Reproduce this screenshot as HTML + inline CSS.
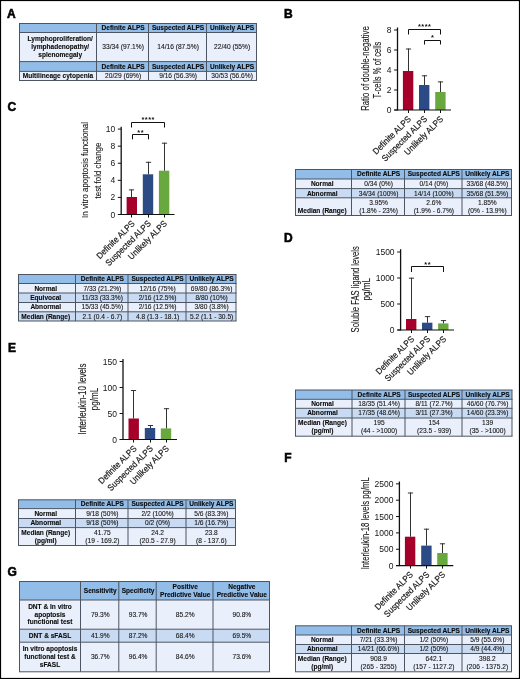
<!DOCTYPE html>
<html><head><meta charset="utf-8"><style>
html,body{margin:0;padding:0;background:#fff;}
svg{display:block;font-family:"Liberation Sans",sans-serif;will-change:transform;}
</style></head><body>
<svg width="520" height="679" viewBox="0 0 520 679">
<rect x="0" y="0" width="520" height="679" fill="#ffffff"/>
<text x="7.1" y="17.7" font-size="12" font-weight="bold" stroke="#000" stroke-width="0.55" text-anchor="start" fill="#000">A</text>
<text x="284.1" y="17.7" font-size="12" font-weight="bold" stroke="#000" stroke-width="0.55" text-anchor="start" fill="#000">B</text>
<text x="7.4" y="111.0" font-size="12" font-weight="bold" stroke="#000" stroke-width="0.55" text-anchor="start" fill="#000">C</text>
<text x="284.1" y="242.1" font-size="12" font-weight="bold" stroke="#000" stroke-width="0.55" text-anchor="start" fill="#000">D</text>
<text x="7.9" y="351.6" font-size="12" font-weight="bold" stroke="#000" stroke-width="0.55" text-anchor="start" fill="#000">E</text>
<text x="284.2" y="462.2" font-size="12" font-weight="bold" stroke="#000" stroke-width="0.55" text-anchor="start" fill="#000">F</text>
<text x="7.4" y="576.0" font-size="12" font-weight="bold" stroke="#000" stroke-width="0.55" text-anchor="start" fill="#000">G</text>
<rect x="19.5" y="23.5" width="237.0" height="9.0" fill="#92bde8"/>
<rect x="19.5" y="32.5" width="237.0" height="29.1" fill="#eaf0fb"/>
<rect x="19.5" y="61.6" width="237.0" height="9.800000000000004" fill="#92bde8"/>
<rect x="19.5" y="71.4" width="237.0" height="9.099999999999994" fill="#eaf0fb"/>
<text x="123.1" y="30.1" font-size="6.579000000000001" font-weight="bold" stroke="#0a0a0a" stroke-width="0.1" text-anchor="middle" fill="#0a0a0a">Definite ALPS</text>
<text x="178.1" y="30.1" font-size="6.579000000000001" font-weight="bold" stroke="#0a0a0a" stroke-width="0.1" text-anchor="middle" fill="#0a0a0a">Suspected ALPS</text>
<text x="232.1" y="30.1" font-size="6.579000000000001" font-weight="bold" stroke="#0a0a0a" stroke-width="0.1" text-anchor="middle" fill="#0a0a0a">Unlikely ALPS</text>
<text x="60.2" y="41.15" font-size="6.579000000000001" font-weight="bold" stroke="#0a0a0a" stroke-width="0.1" text-anchor="middle" fill="#0a0a0a">Lymphoproliferation/</text>
<text x="60.2" y="49.15" font-size="6.579000000000001" font-weight="bold" stroke="#0a0a0a" stroke-width="0.1" text-anchor="middle" fill="#0a0a0a">lymphadenopathy/</text>
<text x="60.2" y="57.15" font-size="6.579000000000001" font-weight="bold" stroke="#0a0a0a" stroke-width="0.1" text-anchor="middle" fill="#0a0a0a">splenomegaly</text>
<text x="123.1" y="49.15" font-size="6.611249999999999" stroke="#141414" stroke-width="0.1" text-anchor="middle" fill="#141414">33/34 (97.1%)</text>
<text x="178.1" y="49.15" font-size="6.611249999999999" stroke="#141414" stroke-width="0.1" text-anchor="middle" fill="#141414">14/16 (87.5%)</text>
<text x="232.1" y="49.15" font-size="6.611249999999999" stroke="#141414" stroke-width="0.1" text-anchor="middle" fill="#141414">22/40 (55%)</text>
<text x="123.1" y="68.6" font-size="6.579000000000001" font-weight="bold" stroke="#0a0a0a" stroke-width="0.1" text-anchor="middle" fill="#0a0a0a">Definite ALPS</text>
<text x="178.1" y="68.6" font-size="6.579000000000001" font-weight="bold" stroke="#0a0a0a" stroke-width="0.1" text-anchor="middle" fill="#0a0a0a">Suspected ALPS</text>
<text x="232.1" y="68.6" font-size="6.579000000000001" font-weight="bold" stroke="#0a0a0a" stroke-width="0.1" text-anchor="middle" fill="#0a0a0a">Unlikely ALPS</text>
<text x="58.0" y="78.05" font-size="6.579000000000001" font-weight="bold" stroke="#0a0a0a" stroke-width="0.1" text-anchor="middle" fill="#0a0a0a">Multilineage cytopenia</text>
<text x="123.1" y="78.05" font-size="6.611249999999999" stroke="#141414" stroke-width="0.1" text-anchor="middle" fill="#141414">20/29 (69%)</text>
<text x="178.1" y="78.05" font-size="6.611249999999999" stroke="#141414" stroke-width="0.1" text-anchor="middle" fill="#141414">9/16 (56.3%)</text>
<text x="232.1" y="78.05" font-size="6.611249999999999" stroke="#141414" stroke-width="0.1" text-anchor="middle" fill="#141414">30/53 (56.6%)</text>
<line x1="19.0" y1="23.5" x2="257.0" y2="23.5" stroke="#4d5562" stroke-width="1"/>
<line x1="19.0" y1="32.5" x2="257.0" y2="32.5" stroke="#4d5562" stroke-width="1"/>
<line x1="19.0" y1="61.6" x2="257.0" y2="61.6" stroke="#4d5562" stroke-width="1"/>
<line x1="19.0" y1="71.4" x2="257.0" y2="71.4" stroke="#4d5562" stroke-width="1"/>
<line x1="19.0" y1="80.5" x2="257.0" y2="80.5" stroke="#4d5562" stroke-width="1"/>
<line x1="19.5" y1="23.5" x2="19.5" y2="80.5" stroke="#4d5562" stroke-width="1"/>
<line x1="96.5" y1="23.5" x2="96.5" y2="80.5" stroke="#4d5562" stroke-width="1"/>
<line x1="148.5" y1="23.5" x2="148.5" y2="80.5" stroke="#4d5562" stroke-width="1"/>
<line x1="206.5" y1="23.5" x2="206.5" y2="80.5" stroke="#4d5562" stroke-width="1"/>
<line x1="256.5" y1="23.5" x2="256.5" y2="80.5" stroke="#4d5562" stroke-width="1"/>
<rect x="295.5" y="169.5" width="216.0" height="9.5" fill="#92bde8"/>
<rect x="295.5" y="179.0" width="216.0" height="9.599999999999994" fill="#eaf0fb"/>
<rect x="295.5" y="188.6" width="216.0" height="9.200000000000017" fill="#c9dbf3"/>
<rect x="295.5" y="197.8" width="216.0" height="17.69999999999999" fill="#eaf0fb"/>
<text x="378.6" y="176.35" font-size="6.579000000000001" font-weight="bold" stroke="#0a0a0a" stroke-width="0.1" text-anchor="middle" fill="#0a0a0a">Definite ALPS</text>
<text x="433.85" y="176.35" font-size="6.579000000000001" font-weight="bold" stroke="#0a0a0a" stroke-width="0.1" text-anchor="middle" fill="#0a0a0a">Suspected ALPS</text>
<text x="487.35" y="176.35" font-size="6.579000000000001" font-weight="bold" stroke="#0a0a0a" stroke-width="0.1" text-anchor="middle" fill="#0a0a0a">Unlikely ALPS</text>
<text x="322.2" y="186.1" font-size="6.579000000000001" font-weight="bold" stroke="#0a0a0a" stroke-width="0.1" text-anchor="middle" fill="#0a0a0a">Normal</text>
<text x="378.6" y="186.1" font-size="6.611249999999999" stroke="#141414" stroke-width="0.1" text-anchor="middle" fill="#141414">0/34 (0%)</text>
<text x="433.85" y="186.1" font-size="6.611249999999999" stroke="#141414" stroke-width="0.1" text-anchor="middle" fill="#141414">0/14 (0%)</text>
<text x="487.35" y="186.1" font-size="6.611249999999999" stroke="#141414" stroke-width="0.1" text-anchor="middle" fill="#141414">33/68 (48.5%)</text>
<text x="322.2" y="195.5" font-size="6.579000000000001" font-weight="bold" stroke="#0a0a0a" stroke-width="0.1" text-anchor="middle" fill="#0a0a0a">Abnormal</text>
<text x="378.6" y="195.5" font-size="6.611249999999999" stroke="#141414" stroke-width="0.1" text-anchor="middle" fill="#141414">34/34 (100%)</text>
<text x="433.85" y="195.5" font-size="6.611249999999999" stroke="#141414" stroke-width="0.1" text-anchor="middle" fill="#141414">14/14 (100%)</text>
<text x="487.35" y="195.5" font-size="6.611249999999999" stroke="#141414" stroke-width="0.1" text-anchor="middle" fill="#141414">35/68 (51.5%)</text>
<text x="322.2" y="212.5" font-size="6.579000000000001" font-weight="bold" stroke="#0a0a0a" stroke-width="0.1" text-anchor="middle" fill="#0a0a0a">Median (Range)</text>
<text x="378.6" y="204.7" font-size="6.611249999999999" stroke="#141414" stroke-width="0.1" text-anchor="middle" fill="#141414">3.95%</text>
<text x="378.6" y="212.5" font-size="6.611249999999999" stroke="#141414" stroke-width="0.1" text-anchor="middle" fill="#141414">(1.8% - 23%)</text>
<text x="433.85" y="204.7" font-size="6.611249999999999" stroke="#141414" stroke-width="0.1" text-anchor="middle" fill="#141414">2.6%</text>
<text x="433.85" y="212.5" font-size="6.611249999999999" stroke="#141414" stroke-width="0.1" text-anchor="middle" fill="#141414">(1.9% - 6.7%)</text>
<text x="487.35" y="204.7" font-size="6.611249999999999" stroke="#141414" stroke-width="0.1" text-anchor="middle" fill="#141414">1.85%</text>
<text x="487.35" y="212.5" font-size="6.611249999999999" stroke="#141414" stroke-width="0.1" text-anchor="middle" fill="#141414">(0% - 13.9%)</text>
<line x1="295.0" y1="169.5" x2="512.0" y2="169.5" stroke="#4d5562" stroke-width="1"/>
<line x1="295.0" y1="179.0" x2="512.0" y2="179.0" stroke="#4d5562" stroke-width="1"/>
<line x1="295.0" y1="188.6" x2="512.0" y2="188.6" stroke="#4d5562" stroke-width="1"/>
<line x1="295.0" y1="197.8" x2="512.0" y2="197.8" stroke="#4d5562" stroke-width="1"/>
<line x1="295.0" y1="215.5" x2="512.0" y2="215.5" stroke="#4d5562" stroke-width="1"/>
<line x1="295.5" y1="169.5" x2="295.5" y2="215.5" stroke="#4d5562" stroke-width="1"/>
<line x1="351.5" y1="169.5" x2="351.5" y2="215.5" stroke="#4d5562" stroke-width="1"/>
<line x1="404.5" y1="169.5" x2="404.5" y2="215.5" stroke="#4d5562" stroke-width="1"/>
<line x1="462.0" y1="169.5" x2="462.0" y2="215.5" stroke="#4d5562" stroke-width="1"/>
<line x1="511.5" y1="169.5" x2="511.5" y2="215.5" stroke="#4d5562" stroke-width="1"/>
<rect x="18.5" y="274.5" width="217.5" height="9.0" fill="#92bde8"/>
<rect x="18.5" y="283.5" width="217.5" height="9.5" fill="#eaf0fb"/>
<rect x="18.5" y="293.0" width="217.5" height="9.5" fill="#c9dbf3"/>
<rect x="18.5" y="302.5" width="217.5" height="9.300000000000011" fill="#eaf0fb"/>
<rect x="18.5" y="311.8" width="217.5" height="9.199999999999989" fill="#c9dbf3"/>
<text x="102.35" y="281.1" font-size="6.579000000000001" font-weight="bold" stroke="#0a0a0a" stroke-width="0.1" text-anchor="middle" fill="#0a0a0a">Definite ALPS</text>
<text x="157.6" y="281.1" font-size="6.579000000000001" font-weight="bold" stroke="#0a0a0a" stroke-width="0.1" text-anchor="middle" fill="#0a0a0a">Suspected ALPS</text>
<text x="211.6" y="281.1" font-size="6.579000000000001" font-weight="bold" stroke="#0a0a0a" stroke-width="0.1" text-anchor="middle" fill="#0a0a0a">Unlikely ALPS</text>
<text x="45.7" y="290.55" font-size="6.579000000000001" font-weight="bold" stroke="#0a0a0a" stroke-width="0.1" text-anchor="middle" fill="#0a0a0a">Normal</text>
<text x="102.35" y="290.55" font-size="6.611249999999999" stroke="#141414" stroke-width="0.1" text-anchor="middle" fill="#141414">7/33 (21.2%)</text>
<text x="157.6" y="290.55" font-size="6.611249999999999" stroke="#141414" stroke-width="0.1" text-anchor="middle" fill="#141414">12/16 (75%)</text>
<text x="211.6" y="290.55" font-size="6.611249999999999" stroke="#141414" stroke-width="0.1" text-anchor="middle" fill="#141414">69/80 (86.3%)</text>
<text x="45.7" y="300.05" font-size="6.579000000000001" font-weight="bold" stroke="#0a0a0a" stroke-width="0.1" text-anchor="middle" fill="#0a0a0a">Equivocal</text>
<text x="102.35" y="300.05" font-size="6.611249999999999" stroke="#141414" stroke-width="0.1" text-anchor="middle" fill="#141414">11/33 (33.3%)</text>
<text x="157.6" y="300.05" font-size="6.611249999999999" stroke="#141414" stroke-width="0.1" text-anchor="middle" fill="#141414">2/16 (12.5%)</text>
<text x="211.6" y="300.05" font-size="6.611249999999999" stroke="#141414" stroke-width="0.1" text-anchor="middle" fill="#141414">8/80 (10%)</text>
<text x="45.7" y="309.45" font-size="6.579000000000001" font-weight="bold" stroke="#0a0a0a" stroke-width="0.1" text-anchor="middle" fill="#0a0a0a">Abnormal</text>
<text x="102.35" y="309.45" font-size="6.611249999999999" stroke="#141414" stroke-width="0.1" text-anchor="middle" fill="#141414">15/33 (45.5%)</text>
<text x="157.6" y="309.45" font-size="6.611249999999999" stroke="#141414" stroke-width="0.1" text-anchor="middle" fill="#141414">2/16 (12.5%)</text>
<text x="211.6" y="309.45" font-size="6.611249999999999" stroke="#141414" stroke-width="0.1" text-anchor="middle" fill="#141414">3/80 (3.8%)</text>
<text x="45.7" y="318.7" font-size="6.579000000000001" font-weight="bold" stroke="#0a0a0a" stroke-width="0.1" text-anchor="middle" fill="#0a0a0a">Median (Range)</text>
<text x="102.35" y="318.7" font-size="6.611249999999999" stroke="#141414" stroke-width="0.1" text-anchor="middle" fill="#141414">2.1 (0.4 - 6.7)</text>
<text x="157.6" y="318.7" font-size="6.611249999999999" stroke="#141414" stroke-width="0.1" text-anchor="middle" fill="#141414">4.8 (1.3 - 18.1)</text>
<text x="211.6" y="318.7" font-size="6.611249999999999" stroke="#141414" stroke-width="0.1" text-anchor="middle" fill="#141414">5.2 (1.1 - 30.5)</text>
<line x1="18.0" y1="274.5" x2="236.5" y2="274.5" stroke="#4d5562" stroke-width="1"/>
<line x1="18.0" y1="283.5" x2="236.5" y2="283.5" stroke="#4d5562" stroke-width="1"/>
<line x1="18.0" y1="293.0" x2="236.5" y2="293.0" stroke="#4d5562" stroke-width="1"/>
<line x1="18.0" y1="302.5" x2="236.5" y2="302.5" stroke="#4d5562" stroke-width="1"/>
<line x1="18.0" y1="311.8" x2="236.5" y2="311.8" stroke="#4d5562" stroke-width="1"/>
<line x1="18.0" y1="321.0" x2="236.5" y2="321.0" stroke="#4d5562" stroke-width="1"/>
<line x1="18.5" y1="274.5" x2="18.5" y2="321.0" stroke="#4d5562" stroke-width="1"/>
<line x1="75.5" y1="274.5" x2="75.5" y2="321.0" stroke="#4d5562" stroke-width="1"/>
<line x1="128.0" y1="274.5" x2="128.0" y2="321.0" stroke="#4d5562" stroke-width="1"/>
<line x1="186.0" y1="274.5" x2="186.0" y2="321.0" stroke="#4d5562" stroke-width="1"/>
<line x1="236.0" y1="274.5" x2="236.0" y2="321.0" stroke="#4d5562" stroke-width="1"/>
<rect x="295.5" y="390.0" width="216.5" height="9.300000000000011" fill="#92bde8"/>
<rect x="295.5" y="399.3" width="216.5" height="9.0" fill="#eaf0fb"/>
<rect x="295.5" y="408.3" width="216.5" height="9.699999999999989" fill="#c9dbf3"/>
<rect x="295.5" y="418.0" width="216.5" height="18.19999999999999" fill="#eaf0fb"/>
<text x="379.1" y="396.75" font-size="6.579000000000001" font-weight="bold" stroke="#0a0a0a" stroke-width="0.1" text-anchor="middle" fill="#0a0a0a">Definite ALPS</text>
<text x="434.1" y="396.75" font-size="6.579000000000001" font-weight="bold" stroke="#0a0a0a" stroke-width="0.1" text-anchor="middle" fill="#0a0a0a">Suspected ALPS</text>
<text x="487.6" y="396.75" font-size="6.579000000000001" font-weight="bold" stroke="#0a0a0a" stroke-width="0.1" text-anchor="middle" fill="#0a0a0a">Unlikely ALPS</text>
<text x="322.45" y="406.1" font-size="6.579000000000001" font-weight="bold" stroke="#0a0a0a" stroke-width="0.1" text-anchor="middle" fill="#0a0a0a">Normal</text>
<text x="379.1" y="406.1" font-size="6.611249999999999" stroke="#141414" stroke-width="0.1" text-anchor="middle" fill="#141414">18/35 (51.4%)</text>
<text x="434.1" y="406.1" font-size="6.611249999999999" stroke="#141414" stroke-width="0.1" text-anchor="middle" fill="#141414">8/11 (72.7%)</text>
<text x="487.6" y="406.1" font-size="6.611249999999999" stroke="#141414" stroke-width="0.1" text-anchor="middle" fill="#141414">46/60 (76.7%)</text>
<text x="322.45" y="415.45" font-size="6.579000000000001" font-weight="bold" stroke="#0a0a0a" stroke-width="0.1" text-anchor="middle" fill="#0a0a0a">Abnormal</text>
<text x="379.1" y="415.45" font-size="6.611249999999999" stroke="#141414" stroke-width="0.1" text-anchor="middle" fill="#141414">17/35 (48.6%)</text>
<text x="434.1" y="415.45" font-size="6.611249999999999" stroke="#141414" stroke-width="0.1" text-anchor="middle" fill="#141414">3/11 (27.3%)</text>
<text x="487.6" y="415.45" font-size="6.611249999999999" stroke="#141414" stroke-width="0.1" text-anchor="middle" fill="#141414">14/60 (23.3%)</text>
<text x="322.45" y="425.0" font-size="6.579000000000001" font-weight="bold" stroke="#0a0a0a" stroke-width="0.1" text-anchor="middle" fill="#0a0a0a">Median (Range)</text>
<text x="322.45" y="432.8" font-size="6.579000000000001" font-weight="bold" stroke="#0a0a0a" stroke-width="0.1" text-anchor="middle" fill="#0a0a0a">(pg/ml)</text>
<text x="379.1" y="425.0" font-size="6.611249999999999" stroke="#141414" stroke-width="0.1" text-anchor="middle" fill="#141414">195</text>
<text x="379.1" y="432.8" font-size="6.611249999999999" stroke="#141414" stroke-width="0.1" text-anchor="middle" fill="#141414">(44 - &gt;1000)</text>
<text x="434.1" y="425.0" font-size="6.611249999999999" stroke="#141414" stroke-width="0.1" text-anchor="middle" fill="#141414">154</text>
<text x="434.1" y="432.8" font-size="6.611249999999999" stroke="#141414" stroke-width="0.1" text-anchor="middle" fill="#141414">(23.5 - 939)</text>
<text x="487.6" y="425.0" font-size="6.611249999999999" stroke="#141414" stroke-width="0.1" text-anchor="middle" fill="#141414">139</text>
<text x="487.6" y="432.8" font-size="6.611249999999999" stroke="#141414" stroke-width="0.1" text-anchor="middle" fill="#141414">(35 - &gt;1000)</text>
<line x1="295.0" y1="390.0" x2="512.5" y2="390.0" stroke="#4d5562" stroke-width="1"/>
<line x1="295.0" y1="399.3" x2="512.5" y2="399.3" stroke="#4d5562" stroke-width="1"/>
<line x1="295.0" y1="408.3" x2="512.5" y2="408.3" stroke="#4d5562" stroke-width="1"/>
<line x1="295.0" y1="418.0" x2="512.5" y2="418.0" stroke="#4d5562" stroke-width="1"/>
<line x1="295.0" y1="436.2" x2="512.5" y2="436.2" stroke="#4d5562" stroke-width="1"/>
<line x1="295.5" y1="390.0" x2="295.5" y2="436.2" stroke="#4d5562" stroke-width="1"/>
<line x1="352.0" y1="390.0" x2="352.0" y2="436.2" stroke="#4d5562" stroke-width="1"/>
<line x1="405.0" y1="390.0" x2="405.0" y2="436.2" stroke="#4d5562" stroke-width="1"/>
<line x1="462.0" y1="390.0" x2="462.0" y2="436.2" stroke="#4d5562" stroke-width="1"/>
<line x1="512.0" y1="390.0" x2="512.0" y2="436.2" stroke="#4d5562" stroke-width="1"/>
<rect x="18.5" y="499.8" width="217.0" height="8.800000000000011" fill="#92bde8"/>
<rect x="18.5" y="508.6" width="217.0" height="9.899999999999977" fill="#eaf0fb"/>
<rect x="18.5" y="518.5" width="217.0" height="9.100000000000023" fill="#c9dbf3"/>
<rect x="18.5" y="527.6" width="217.0" height="17.899999999999977" fill="#eaf0fb"/>
<text x="102.35" y="506.3" font-size="6.579000000000001" font-weight="bold" stroke="#0a0a0a" stroke-width="0.1" text-anchor="middle" fill="#0a0a0a">Definite ALPS</text>
<text x="157.6" y="506.3" font-size="6.579000000000001" font-weight="bold" stroke="#0a0a0a" stroke-width="0.1" text-anchor="middle" fill="#0a0a0a">Suspected ALPS</text>
<text x="211.35" y="506.3" font-size="6.579000000000001" font-weight="bold" stroke="#0a0a0a" stroke-width="0.1" text-anchor="middle" fill="#0a0a0a">Unlikely ALPS</text>
<text x="45.7" y="515.85" font-size="6.579000000000001" font-weight="bold" stroke="#0a0a0a" stroke-width="0.1" text-anchor="middle" fill="#0a0a0a">Normal</text>
<text x="102.35" y="515.85" font-size="6.611249999999999" stroke="#141414" stroke-width="0.1" text-anchor="middle" fill="#141414">9/18 (50%)</text>
<text x="157.6" y="515.85" font-size="6.611249999999999" stroke="#141414" stroke-width="0.1" text-anchor="middle" fill="#141414">2/2 (100%)</text>
<text x="211.35" y="515.85" font-size="6.611249999999999" stroke="#141414" stroke-width="0.1" text-anchor="middle" fill="#141414">5/6 (83.3%)</text>
<text x="45.7" y="525.35" font-size="6.579000000000001" font-weight="bold" stroke="#0a0a0a" stroke-width="0.1" text-anchor="middle" fill="#0a0a0a">Abnormal</text>
<text x="102.35" y="525.35" font-size="6.611249999999999" stroke="#141414" stroke-width="0.1" text-anchor="middle" fill="#141414">9/18 (50%)</text>
<text x="157.6" y="525.35" font-size="6.611249999999999" stroke="#141414" stroke-width="0.1" text-anchor="middle" fill="#141414">0/2 (0%)</text>
<text x="211.35" y="525.35" font-size="6.611249999999999" stroke="#141414" stroke-width="0.1" text-anchor="middle" fill="#141414">1/6 (16.7%)</text>
<text x="45.7" y="534.9" font-size="6.579000000000001" font-weight="bold" stroke="#0a0a0a" stroke-width="0.1" text-anchor="middle" fill="#0a0a0a">Median (Range)</text>
<text x="45.7" y="542.7" font-size="6.579000000000001" font-weight="bold" stroke="#0a0a0a" stroke-width="0.1" text-anchor="middle" fill="#0a0a0a">(pg/ml)</text>
<text x="102.35" y="534.9" font-size="6.611249999999999" stroke="#141414" stroke-width="0.1" text-anchor="middle" fill="#141414">41.75</text>
<text x="102.35" y="542.7" font-size="6.611249999999999" stroke="#141414" stroke-width="0.1" text-anchor="middle" fill="#141414">(19 - 169.2)</text>
<text x="157.6" y="534.9" font-size="6.611249999999999" stroke="#141414" stroke-width="0.1" text-anchor="middle" fill="#141414">24.2</text>
<text x="157.6" y="542.7" font-size="6.611249999999999" stroke="#141414" stroke-width="0.1" text-anchor="middle" fill="#141414">(20.5 - 27.9)</text>
<text x="211.35" y="534.9" font-size="6.611249999999999" stroke="#141414" stroke-width="0.1" text-anchor="middle" fill="#141414">23.8</text>
<text x="211.35" y="542.7" font-size="6.611249999999999" stroke="#141414" stroke-width="0.1" text-anchor="middle" fill="#141414">(8 - 137.6)</text>
<line x1="18.0" y1="499.8" x2="236.0" y2="499.8" stroke="#4d5562" stroke-width="1"/>
<line x1="18.0" y1="508.6" x2="236.0" y2="508.6" stroke="#4d5562" stroke-width="1"/>
<line x1="18.0" y1="518.5" x2="236.0" y2="518.5" stroke="#4d5562" stroke-width="1"/>
<line x1="18.0" y1="527.6" x2="236.0" y2="527.6" stroke="#4d5562" stroke-width="1"/>
<line x1="18.0" y1="545.5" x2="236.0" y2="545.5" stroke="#4d5562" stroke-width="1"/>
<line x1="18.5" y1="499.8" x2="18.5" y2="545.5" stroke="#4d5562" stroke-width="1"/>
<line x1="75.5" y1="499.8" x2="75.5" y2="545.5" stroke="#4d5562" stroke-width="1"/>
<line x1="128.0" y1="499.8" x2="128.0" y2="545.5" stroke="#4d5562" stroke-width="1"/>
<line x1="186.0" y1="499.8" x2="186.0" y2="545.5" stroke="#4d5562" stroke-width="1"/>
<line x1="235.5" y1="499.8" x2="235.5" y2="545.5" stroke="#4d5562" stroke-width="1"/>
<rect x="295.5" y="625.8" width="216.0" height="9.200000000000045" fill="#92bde8"/>
<rect x="295.5" y="635.0" width="216.0" height="9.5" fill="#eaf0fb"/>
<rect x="295.5" y="644.5" width="216.0" height="9.0" fill="#c9dbf3"/>
<rect x="295.5" y="653.5" width="216.0" height="18.299999999999955" fill="#eaf0fb"/>
<text x="378.6" y="632.5" font-size="6.579000000000001" font-weight="bold" stroke="#0a0a0a" stroke-width="0.1" text-anchor="middle" fill="#0a0a0a">Definite ALPS</text>
<text x="433.85" y="632.5" font-size="6.579000000000001" font-weight="bold" stroke="#0a0a0a" stroke-width="0.1" text-anchor="middle" fill="#0a0a0a">Suspected ALPS</text>
<text x="487.35" y="632.5" font-size="6.579000000000001" font-weight="bold" stroke="#0a0a0a" stroke-width="0.1" text-anchor="middle" fill="#0a0a0a">Unlikely ALPS</text>
<text x="322.2" y="642.05" font-size="6.579000000000001" font-weight="bold" stroke="#0a0a0a" stroke-width="0.1" text-anchor="middle" fill="#0a0a0a">Normal</text>
<text x="378.6" y="642.05" font-size="6.611249999999999" stroke="#141414" stroke-width="0.1" text-anchor="middle" fill="#141414">7/21 (33.3%)</text>
<text x="433.85" y="642.05" font-size="6.611249999999999" stroke="#141414" stroke-width="0.1" text-anchor="middle" fill="#141414">1/2 (50%)</text>
<text x="487.35" y="642.05" font-size="6.611249999999999" stroke="#141414" stroke-width="0.1" text-anchor="middle" fill="#141414">5/9 (55.6%)</text>
<text x="322.2" y="651.3" font-size="6.579000000000001" font-weight="bold" stroke="#0a0a0a" stroke-width="0.1" text-anchor="middle" fill="#0a0a0a">Abnormal</text>
<text x="378.6" y="651.3" font-size="6.611249999999999" stroke="#141414" stroke-width="0.1" text-anchor="middle" fill="#141414">14/21 (66.6%)</text>
<text x="433.85" y="651.3" font-size="6.611249999999999" stroke="#141414" stroke-width="0.1" text-anchor="middle" fill="#141414">1/2 (50%)</text>
<text x="487.35" y="651.3" font-size="6.611249999999999" stroke="#141414" stroke-width="0.1" text-anchor="middle" fill="#141414">4/9 (44.4%)</text>
<text x="322.2" y="660.9" font-size="6.579000000000001" font-weight="bold" stroke="#0a0a0a" stroke-width="0.1" text-anchor="middle" fill="#0a0a0a">Median (Range)</text>
<text x="322.2" y="668.7" font-size="6.579000000000001" font-weight="bold" stroke="#0a0a0a" stroke-width="0.1" text-anchor="middle" fill="#0a0a0a">(pg/ml)</text>
<text x="378.6" y="660.9" font-size="6.611249999999999" stroke="#141414" stroke-width="0.1" text-anchor="middle" fill="#141414">908.9</text>
<text x="378.6" y="668.7" font-size="6.611249999999999" stroke="#141414" stroke-width="0.1" text-anchor="middle" fill="#141414">(265 - 3255)</text>
<text x="433.85" y="660.9" font-size="6.611249999999999" stroke="#141414" stroke-width="0.1" text-anchor="middle" fill="#141414">642.1</text>
<text x="433.85" y="668.7" font-size="6.611249999999999" stroke="#141414" stroke-width="0.1" text-anchor="middle" fill="#141414">(157 - 1127.2)</text>
<text x="487.35" y="660.9" font-size="6.611249999999999" stroke="#141414" stroke-width="0.1" text-anchor="middle" fill="#141414">398.2</text>
<text x="487.35" y="668.7" font-size="6.611249999999999" stroke="#141414" stroke-width="0.1" text-anchor="middle" fill="#141414">(206 - 1375.2)</text>
<line x1="295.0" y1="625.8" x2="512.0" y2="625.8" stroke="#4d5562" stroke-width="1"/>
<line x1="295.0" y1="635.0" x2="512.0" y2="635.0" stroke="#4d5562" stroke-width="1"/>
<line x1="295.0" y1="644.5" x2="512.0" y2="644.5" stroke="#4d5562" stroke-width="1"/>
<line x1="295.0" y1="653.5" x2="512.0" y2="653.5" stroke="#4d5562" stroke-width="1"/>
<line x1="295.0" y1="671.8" x2="512.0" y2="671.8" stroke="#4d5562" stroke-width="1"/>
<line x1="295.5" y1="625.8" x2="295.5" y2="671.8" stroke="#4d5562" stroke-width="1"/>
<line x1="351.5" y1="625.8" x2="351.5" y2="671.8" stroke="#4d5562" stroke-width="1"/>
<line x1="404.5" y1="625.8" x2="404.5" y2="671.8" stroke="#4d5562" stroke-width="1"/>
<line x1="462.0" y1="625.8" x2="462.0" y2="671.8" stroke="#4d5562" stroke-width="1"/>
<line x1="511.5" y1="625.8" x2="511.5" y2="671.8" stroke="#4d5562" stroke-width="1"/>
<rect x="19.5" y="581.5" width="250.0" height="18.5" fill="#92bde8"/>
<rect x="19.5" y="600.0" width="250.0" height="29.200000000000045" fill="#eaf0fb"/>
<rect x="19.5" y="629.2" width="250.0" height="13.0" fill="#c9dbf3"/>
<rect x="19.5" y="642.2" width="250.0" height="29.59999999999991" fill="#eaf0fb"/>
<text x="100.25" y="592.85" font-size="6.579000000000001" font-weight="bold" stroke="#0a0a0a" stroke-width="0.1" text-anchor="middle" fill="#0a0a0a">Sensitivity</text>
<text x="138.1" y="592.85" font-size="6.579000000000001" font-weight="bold" stroke="#0a0a0a" stroke-width="0.1" text-anchor="middle" fill="#0a0a0a">Specificity</text>
<text x="185.2" y="589.0" font-size="6.579000000000001" font-weight="bold" stroke="#0a0a0a" stroke-width="0.1" text-anchor="middle" fill="#0a0a0a">Positive</text>
<text x="185.2" y="596.7" font-size="6.579000000000001" font-weight="bold" stroke="#0a0a0a" stroke-width="0.1" text-anchor="middle" fill="#0a0a0a">Predictive Value</text>
<text x="241.85" y="589.0" font-size="6.579000000000001" font-weight="bold" stroke="#0a0a0a" stroke-width="0.1" text-anchor="middle" fill="#0a0a0a">Negative</text>
<text x="241.85" y="596.7" font-size="6.579000000000001" font-weight="bold" stroke="#0a0a0a" stroke-width="0.1" text-anchor="middle" fill="#0a0a0a">Predictive Value</text>
<text x="50.0" y="609.0" font-size="6.579000000000001" font-weight="bold" stroke="#0a0a0a" stroke-width="0.1" text-anchor="middle" fill="#0a0a0a">DNT &amp; In vitro</text>
<text x="50.0" y="616.7" font-size="6.579000000000001" font-weight="bold" stroke="#0a0a0a" stroke-width="0.1" text-anchor="middle" fill="#0a0a0a">apoptosis</text>
<text x="50.0" y="624.4" font-size="6.579000000000001" font-weight="bold" stroke="#0a0a0a" stroke-width="0.1" text-anchor="middle" fill="#0a0a0a">functional test</text>
<text x="100.25" y="616.7" font-size="6.611249999999999" stroke="#141414" stroke-width="0.1" text-anchor="middle" fill="#141414">79.3%</text>
<text x="138.1" y="616.7" font-size="6.611249999999999" stroke="#141414" stroke-width="0.1" text-anchor="middle" fill="#141414">93.7%</text>
<text x="185.2" y="616.7" font-size="6.611249999999999" stroke="#141414" stroke-width="0.1" text-anchor="middle" fill="#141414">85.2%</text>
<text x="241.85" y="616.7" font-size="6.611249999999999" stroke="#141414" stroke-width="0.1" text-anchor="middle" fill="#141414">90.8%</text>
<text x="50.0" y="637.8" font-size="6.579000000000001" font-weight="bold" stroke="#0a0a0a" stroke-width="0.1" text-anchor="middle" fill="#0a0a0a">DNT &amp; sFASL</text>
<text x="100.25" y="637.8" font-size="6.611249999999999" stroke="#141414" stroke-width="0.1" text-anchor="middle" fill="#141414">41.9%</text>
<text x="138.1" y="637.8" font-size="6.611249999999999" stroke="#141414" stroke-width="0.1" text-anchor="middle" fill="#141414">87.2%</text>
<text x="185.2" y="637.8" font-size="6.611249999999999" stroke="#141414" stroke-width="0.1" text-anchor="middle" fill="#141414">68.4%</text>
<text x="241.85" y="637.8" font-size="6.611249999999999" stroke="#141414" stroke-width="0.1" text-anchor="middle" fill="#141414">69.5%</text>
<text x="50.0" y="651.4" font-size="6.579000000000001" font-weight="bold" stroke="#0a0a0a" stroke-width="0.1" text-anchor="middle" fill="#0a0a0a">In vitro apoptosis</text>
<text x="50.0" y="659.1" font-size="6.579000000000001" font-weight="bold" stroke="#0a0a0a" stroke-width="0.1" text-anchor="middle" fill="#0a0a0a">functional test &amp;</text>
<text x="50.0" y="666.8" font-size="6.579000000000001" font-weight="bold" stroke="#0a0a0a" stroke-width="0.1" text-anchor="middle" fill="#0a0a0a">sFASL</text>
<text x="100.25" y="659.1" font-size="6.611249999999999" stroke="#141414" stroke-width="0.1" text-anchor="middle" fill="#141414">36.7%</text>
<text x="138.1" y="659.1" font-size="6.611249999999999" stroke="#141414" stroke-width="0.1" text-anchor="middle" fill="#141414">96.4%</text>
<text x="185.2" y="659.1" font-size="6.611249999999999" stroke="#141414" stroke-width="0.1" text-anchor="middle" fill="#141414">84.6%</text>
<text x="241.85" y="659.1" font-size="6.611249999999999" stroke="#141414" stroke-width="0.1" text-anchor="middle" fill="#141414">73.6%</text>
<line x1="19.0" y1="581.5" x2="270.0" y2="581.5" stroke="#4d5562" stroke-width="1"/>
<line x1="19.0" y1="600.0" x2="270.0" y2="600.0" stroke="#4d5562" stroke-width="1"/>
<line x1="19.0" y1="629.2" x2="270.0" y2="629.2" stroke="#4d5562" stroke-width="1"/>
<line x1="19.0" y1="642.2" x2="270.0" y2="642.2" stroke="#4d5562" stroke-width="1"/>
<line x1="19.0" y1="671.8" x2="270.0" y2="671.8" stroke="#4d5562" stroke-width="1"/>
<line x1="19.5" y1="581.5" x2="19.5" y2="671.8" stroke="#4d5562" stroke-width="1"/>
<line x1="80.5" y1="581.5" x2="80.5" y2="671.8" stroke="#4d5562" stroke-width="1"/>
<line x1="118.8" y1="581.5" x2="118.8" y2="671.8" stroke="#4d5562" stroke-width="1"/>
<line x1="156.2" y1="581.5" x2="156.2" y2="671.8" stroke="#4d5562" stroke-width="1"/>
<line x1="213.0" y1="581.5" x2="213.0" y2="671.8" stroke="#4d5562" stroke-width="1"/>
<line x1="269.5" y1="581.5" x2="269.5" y2="671.8" stroke="#4d5562" stroke-width="1"/>
<rect x="402.9" y="71.0" width="10.4" height="39.0" fill="#a5002a"/>
<rect x="419.0" y="85.0" width="10.4" height="25.0" fill="#2c4a86"/>
<rect x="435.2" y="92.0" width="10.4" height="18.0" fill="#69a83e"/>
<line x1="408.5" y1="48.5" x2="408.5" y2="71.0" stroke="#333333" stroke-width="1"/>
<line x1="405.9" y1="49.0" x2="411.1" y2="49.0" stroke="#333333" stroke-width="1"/>
<line x1="424.5" y1="75.3" x2="424.5" y2="85.0" stroke="#333333" stroke-width="1"/>
<line x1="421.9" y1="75.8" x2="427.1" y2="75.8" stroke="#333333" stroke-width="1"/>
<line x1="440.5" y1="81.4" x2="440.5" y2="92.0" stroke="#333333" stroke-width="1"/>
<line x1="437.9" y1="81.9" x2="443.1" y2="81.9" stroke="#333333" stroke-width="1"/>
<line x1="397.5" y1="27.5" x2="397.5" y2="110.5" stroke="#111111" stroke-width="1.3"/>
<line x1="394.3" y1="110.0" x2="451.0" y2="110.0" stroke="#111111" stroke-width="1.2"/>
<line x1="394.1" y1="110.0" x2="397.5" y2="110.0" stroke="#111111" stroke-width="1"/>
<text x="391.5" y="113.0" font-size="8.5" text-anchor="end" fill="#141414">0</text>
<line x1="394.1" y1="90.0" x2="397.5" y2="90.0" stroke="#111111" stroke-width="1"/>
<text x="391.5" y="93.0" font-size="8.5" text-anchor="end" fill="#141414">2</text>
<line x1="394.1" y1="70.0" x2="397.5" y2="70.0" stroke="#111111" stroke-width="1"/>
<text x="391.5" y="73.0" font-size="8.5" text-anchor="end" fill="#141414">4</text>
<line x1="394.1" y1="50.0" x2="397.5" y2="50.0" stroke="#111111" stroke-width="1"/>
<text x="391.5" y="53.0" font-size="8.5" text-anchor="end" fill="#141414">6</text>
<line x1="394.1" y1="30.0" x2="397.5" y2="30.0" stroke="#111111" stroke-width="1"/>
<text x="391.5" y="33.0" font-size="8.5" text-anchor="end" fill="#141414">8</text>
<line x1="408.5" y1="110.0" x2="408.5" y2="113.0" stroke="#111111" stroke-width="1"/>
<line x1="424.5" y1="110.0" x2="424.5" y2="113.0" stroke="#111111" stroke-width="1"/>
<line x1="440.5" y1="110.0" x2="440.5" y2="113.0" stroke="#111111" stroke-width="1"/>
<text transform="translate(411.60,119.60) rotate(-45)" font-size="8.8" text-anchor="end" fill="#141414" stroke="#141414" stroke-width="0.18" textLength="50" lengthAdjust="spacingAndGlyphs">Definite ALPS</text>
<text transform="translate(427.70,119.60) rotate(-45)" font-size="8.8" text-anchor="end" fill="#141414" stroke="#141414" stroke-width="0.18" textLength="60" lengthAdjust="spacingAndGlyphs">Suspected ALPS</text>
<text transform="translate(443.90,119.60) rotate(-45)" font-size="8.8" text-anchor="end" fill="#141414" stroke="#141414" stroke-width="0.18" textLength="51" lengthAdjust="spacingAndGlyphs">Unlikely ALPS</text>
<text transform="translate(369.25,68.50) rotate(-90)" font-size="10.4" text-anchor="middle" fill="#141414" stroke="#141414" stroke-width="0.1" textLength="84.6" lengthAdjust="spacingAndGlyphs">Ratio of double-negative</text>
<text transform="translate(381.10,70.00) rotate(-90)" font-size="10.4" text-anchor="middle" fill="#141414" stroke="#141414" stroke-width="0.1" textLength="56.8" lengthAdjust="spacingAndGlyphs">T-cells % of cells</text>
<polyline points="408.5,34.5 408.5,29.5 440.5,29.5 440.5,34.5" fill="none" stroke="#111111" stroke-width="1"/>
<text x="419.48" y="29.1" font-size="7.4" font-weight="bold" text-anchor="middle" fill="#111111">*</text>
<text x="422.82" y="29.1" font-size="7.4" font-weight="bold" text-anchor="middle" fill="#111111">*</text>
<text x="426.18" y="29.1" font-size="7.4" font-weight="bold" text-anchor="middle" fill="#111111">*</text>
<text x="429.52" y="29.1" font-size="7.4" font-weight="bold" text-anchor="middle" fill="#111111">*</text>
<polyline points="424.5,44.5 424.5,40.5 440.5,40.5 440.5,44.5" fill="none" stroke="#111111" stroke-width="1"/>
<text x="432.5" y="39.800000000000004" font-size="7.4" font-weight="bold" text-anchor="middle" fill="#111111">*</text>
<rect x="126.6" y="197.0" width="10.4" height="17.5" fill="#a5002a"/>
<rect x="142.8" y="174.3" width="10.4" height="40.2" fill="#2c4a86"/>
<rect x="158.9" y="170.7" width="10.4" height="43.8" fill="#69a83e"/>
<line x1="131.5" y1="189.4" x2="131.5" y2="197.0" stroke="#333333" stroke-width="1"/>
<line x1="128.9" y1="189.9" x2="134.1" y2="189.9" stroke="#333333" stroke-width="1"/>
<line x1="148.5" y1="161.8" x2="148.5" y2="174.3" stroke="#333333" stroke-width="1"/>
<line x1="145.9" y1="162.3" x2="151.1" y2="162.3" stroke="#333333" stroke-width="1"/>
<line x1="164.5" y1="142.7" x2="164.5" y2="170.7" stroke="#333333" stroke-width="1"/>
<line x1="161.9" y1="143.2" x2="167.1" y2="143.2" stroke="#333333" stroke-width="1"/>
<line x1="121.2" y1="126.7" x2="121.2" y2="215.0" stroke="#111111" stroke-width="1.3"/>
<line x1="118.0" y1="214.5" x2="174.5" y2="214.5" stroke="#111111" stroke-width="1.2"/>
<line x1="117.8" y1="214.5" x2="121.2" y2="214.5" stroke="#111111" stroke-width="1"/>
<text x="115.2" y="217.5" font-size="8.5" text-anchor="end" fill="#141414">0</text>
<line x1="117.8" y1="197.42000000000002" x2="121.2" y2="197.42000000000002" stroke="#111111" stroke-width="1"/>
<text x="115.2" y="200.42" font-size="8.5" text-anchor="end" fill="#141414">2</text>
<line x1="117.8" y1="180.34" x2="121.2" y2="180.34" stroke="#111111" stroke-width="1"/>
<text x="115.2" y="183.34" font-size="8.5" text-anchor="end" fill="#141414">4</text>
<line x1="117.8" y1="163.26" x2="121.2" y2="163.26" stroke="#111111" stroke-width="1"/>
<text x="115.2" y="166.26" font-size="8.5" text-anchor="end" fill="#141414">6</text>
<line x1="117.8" y1="146.18" x2="121.2" y2="146.18" stroke="#111111" stroke-width="1"/>
<text x="115.2" y="149.18" font-size="8.5" text-anchor="end" fill="#141414">8</text>
<line x1="117.8" y1="129.10000000000002" x2="121.2" y2="129.10000000000002" stroke="#111111" stroke-width="1"/>
<text x="115.2" y="132.1" font-size="8.5" text-anchor="end" fill="#141414">10</text>
<line x1="131.5" y1="214.5" x2="131.5" y2="217.5" stroke="#111111" stroke-width="1"/>
<line x1="148.5" y1="214.5" x2="148.5" y2="217.5" stroke="#111111" stroke-width="1"/>
<line x1="164.5" y1="214.5" x2="164.5" y2="217.5" stroke="#111111" stroke-width="1"/>
<text transform="translate(135.30,224.10) rotate(-45)" font-size="8.8" text-anchor="end" fill="#141414" stroke="#141414" stroke-width="0.18" textLength="50" lengthAdjust="spacingAndGlyphs">Definite ALPS</text>
<text transform="translate(151.50,224.10) rotate(-45)" font-size="8.8" text-anchor="end" fill="#141414" stroke="#141414" stroke-width="0.18" textLength="60" lengthAdjust="spacingAndGlyphs">Suspected ALPS</text>
<text transform="translate(167.60,224.10) rotate(-45)" font-size="8.8" text-anchor="end" fill="#141414" stroke="#141414" stroke-width="0.18" textLength="51" lengthAdjust="spacingAndGlyphs">Unlikely ALPS</text>
<text transform="translate(88.10,170.00) rotate(-90)" font-size="9.9" text-anchor="middle" fill="#141414" stroke="#141414" stroke-width="0.1" textLength="95.8" lengthAdjust="spacingAndGlyphs">In vitro apoptosis functional</text>
<text transform="translate(100.50,170.50) rotate(-90)" font-size="9.9" text-anchor="middle" fill="#141414" stroke="#141414" stroke-width="0.1" textLength="55.8" lengthAdjust="spacingAndGlyphs">test fold change</text>
<polyline points="131.5,127.5 131.5,122.5 164.5,122.5 164.5,127.5" fill="none" stroke="#111111" stroke-width="1"/>
<text x="142.97" y="122.39999999999999" font-size="7.4" font-weight="bold" text-anchor="middle" fill="#111111">*</text>
<text x="146.32" y="122.39999999999999" font-size="7.4" font-weight="bold" text-anchor="middle" fill="#111111">*</text>
<text x="149.68" y="122.39999999999999" font-size="7.4" font-weight="bold" text-anchor="middle" fill="#111111">*</text>
<text x="153.03" y="122.39999999999999" font-size="7.4" font-weight="bold" text-anchor="middle" fill="#111111">*</text>
<polyline points="132.5,139.4 132.5,134.5 148.5,134.5 148.5,139.4" fill="none" stroke="#111111" stroke-width="1"/>
<text x="138.82" y="134.79999999999998" font-size="7.4" font-weight="bold" text-anchor="middle" fill="#111111">*</text>
<text x="142.18" y="134.79999999999998" font-size="7.4" font-weight="bold" text-anchor="middle" fill="#111111">*</text>
<rect x="406.0" y="319.0" width="10.4" height="11.0" fill="#a5002a"/>
<rect x="422.0" y="322.7" width="10.4" height="7.3" fill="#2c4a86"/>
<rect x="438.1" y="323.4" width="10.4" height="6.6" fill="#69a83e"/>
<line x1="411.5" y1="277.7" x2="411.5" y2="319.0" stroke="#333333" stroke-width="1"/>
<line x1="408.9" y1="278.2" x2="414.1" y2="278.2" stroke="#333333" stroke-width="1"/>
<line x1="427.5" y1="316.1" x2="427.5" y2="322.7" stroke="#333333" stroke-width="1"/>
<line x1="424.9" y1="316.6" x2="430.1" y2="316.6" stroke="#333333" stroke-width="1"/>
<line x1="443.5" y1="320.1" x2="443.5" y2="323.4" stroke="#333333" stroke-width="1"/>
<line x1="440.9" y1="320.6" x2="446.1" y2="320.6" stroke="#333333" stroke-width="1"/>
<line x1="400.6" y1="249.2" x2="400.6" y2="330.5" stroke="#111111" stroke-width="1.3"/>
<line x1="397.40000000000003" y1="330.0" x2="454.0" y2="330.0" stroke="#111111" stroke-width="1.2"/>
<line x1="397.20000000000005" y1="330.0" x2="400.6" y2="330.0" stroke="#111111" stroke-width="1"/>
<text x="394.6" y="333.0" font-size="8.5" text-anchor="end" fill="#141414">0</text>
<line x1="397.20000000000005" y1="304.0" x2="400.6" y2="304.0" stroke="#111111" stroke-width="1"/>
<text x="394.6" y="307.0" font-size="8.5" text-anchor="end" fill="#141414">500</text>
<line x1="397.20000000000005" y1="278.0" x2="400.6" y2="278.0" stroke="#111111" stroke-width="1"/>
<text x="394.6" y="281.0" font-size="8.5" text-anchor="end" fill="#141414">1000</text>
<line x1="397.20000000000005" y1="252.0" x2="400.6" y2="252.0" stroke="#111111" stroke-width="1"/>
<text x="394.6" y="255.0" font-size="8.5" text-anchor="end" fill="#141414">1500</text>
<line x1="411.5" y1="330.0" x2="411.5" y2="333.0" stroke="#111111" stroke-width="1"/>
<line x1="427.5" y1="330.0" x2="427.5" y2="333.0" stroke="#111111" stroke-width="1"/>
<line x1="443.5" y1="330.0" x2="443.5" y2="333.0" stroke="#111111" stroke-width="1"/>
<text transform="translate(414.70,339.60) rotate(-45)" font-size="8.8" text-anchor="end" fill="#141414" stroke="#141414" stroke-width="0.18" textLength="50" lengthAdjust="spacingAndGlyphs">Definite ALPS</text>
<text transform="translate(430.70,339.60) rotate(-45)" font-size="8.8" text-anchor="end" fill="#141414" stroke="#141414" stroke-width="0.18" textLength="60" lengthAdjust="spacingAndGlyphs">Suspected ALPS</text>
<text transform="translate(446.80,339.60) rotate(-45)" font-size="8.8" text-anchor="end" fill="#141414" stroke="#141414" stroke-width="0.18" textLength="51" lengthAdjust="spacingAndGlyphs">Unlikely ALPS</text>
<text transform="translate(358.70,289.30) rotate(-90)" font-size="11.2" text-anchor="middle" fill="#141414" stroke="#141414" stroke-width="0.1" textLength="86.2" lengthAdjust="spacingAndGlyphs">Soluble FAS ligand levels</text>
<text transform="translate(370.20,289.20) rotate(-90)" font-size="11.2" text-anchor="middle" fill="#141414" stroke="#141414" stroke-width="0.1" textLength="22.4" lengthAdjust="spacingAndGlyphs">pg/mL</text>
<polyline points="411.5,272.0 411.5,266.5 443.5,266.5 443.5,272.0" fill="none" stroke="#111111" stroke-width="1"/>
<text x="425.82" y="266.6" font-size="7.4" font-weight="bold" text-anchor="middle" fill="#111111">*</text>
<text x="429.18" y="266.6" font-size="7.4" font-weight="bold" text-anchor="middle" fill="#111111">*</text>
<rect x="128.5" y="418.5" width="10.4" height="21.0" fill="#a5002a"/>
<rect x="144.8" y="428.0" width="10.4" height="11.5" fill="#2c4a86"/>
<rect x="160.8" y="428.4" width="10.4" height="11.1" fill="#69a83e"/>
<line x1="133.5" y1="390.0" x2="133.5" y2="418.5" stroke="#333333" stroke-width="1"/>
<line x1="130.9" y1="390.5" x2="136.1" y2="390.5" stroke="#333333" stroke-width="1"/>
<line x1="150.5" y1="425.0" x2="150.5" y2="428.0" stroke="#333333" stroke-width="1"/>
<line x1="147.9" y1="425.5" x2="153.1" y2="425.5" stroke="#333333" stroke-width="1"/>
<line x1="166.5" y1="408.2" x2="166.5" y2="428.4" stroke="#333333" stroke-width="1"/>
<line x1="163.9" y1="408.7" x2="169.1" y2="408.7" stroke="#333333" stroke-width="1"/>
<line x1="123.0" y1="359.0" x2="123.0" y2="440.0" stroke="#111111" stroke-width="1.3"/>
<line x1="119.8" y1="439.5" x2="177.0" y2="439.5" stroke="#111111" stroke-width="1.2"/>
<line x1="119.6" y1="439.5" x2="123.0" y2="439.5" stroke="#111111" stroke-width="1"/>
<text x="117.0" y="442.5" font-size="8.5" text-anchor="end" fill="#141414">0</text>
<line x1="119.6" y1="413.5" x2="123.0" y2="413.5" stroke="#111111" stroke-width="1"/>
<text x="117.0" y="416.5" font-size="8.5" text-anchor="end" fill="#141414">50</text>
<line x1="119.6" y1="387.5" x2="123.0" y2="387.5" stroke="#111111" stroke-width="1"/>
<text x="117.0" y="390.5" font-size="8.5" text-anchor="end" fill="#141414">100</text>
<line x1="119.6" y1="361.5" x2="123.0" y2="361.5" stroke="#111111" stroke-width="1"/>
<text x="117.0" y="364.5" font-size="8.5" text-anchor="end" fill="#141414">150</text>
<line x1="133.5" y1="439.5" x2="133.5" y2="442.5" stroke="#111111" stroke-width="1"/>
<line x1="150.5" y1="439.5" x2="150.5" y2="442.5" stroke="#111111" stroke-width="1"/>
<line x1="166.5" y1="439.5" x2="166.5" y2="442.5" stroke="#111111" stroke-width="1"/>
<text transform="translate(137.20,449.10) rotate(-45)" font-size="8.8" text-anchor="end" fill="#141414" stroke="#141414" stroke-width="0.18" textLength="50" lengthAdjust="spacingAndGlyphs">Definite ALPS</text>
<text transform="translate(153.50,449.10) rotate(-45)" font-size="8.8" text-anchor="end" fill="#141414" stroke="#141414" stroke-width="0.18" textLength="60" lengthAdjust="spacingAndGlyphs">Suspected ALPS</text>
<text transform="translate(169.50,449.10) rotate(-45)" font-size="8.8" text-anchor="end" fill="#141414" stroke="#141414" stroke-width="0.18" textLength="51" lengthAdjust="spacingAndGlyphs">Unlikely ALPS</text>
<text transform="translate(85.90,398.90) rotate(-90)" font-size="10.2" text-anchor="middle" fill="#141414" stroke="#141414" stroke-width="0.1" textLength="71.0" lengthAdjust="spacingAndGlyphs">Interleukin-10 levels</text>
<text transform="translate(97.60,399.00) rotate(-90)" font-size="10.2" text-anchor="middle" fill="#141414" stroke="#141414" stroke-width="0.1" textLength="22.8" lengthAdjust="spacingAndGlyphs">pg/mL</text>
<rect x="404.9" y="536.7" width="10.4" height="28.9" fill="#a5002a"/>
<rect x="421.2" y="545.6" width="10.4" height="20.0" fill="#2c4a86"/>
<rect x="437.2" y="553.0" width="10.4" height="12.6" fill="#69a83e"/>
<line x1="410.5" y1="492.5" x2="410.5" y2="536.7" stroke="#333333" stroke-width="1"/>
<line x1="407.9" y1="493.0" x2="413.1" y2="493.0" stroke="#333333" stroke-width="1"/>
<line x1="426.5" y1="528.7" x2="426.5" y2="545.6" stroke="#333333" stroke-width="1"/>
<line x1="423.9" y1="529.2" x2="429.1" y2="529.2" stroke="#333333" stroke-width="1"/>
<line x1="442.5" y1="543.3" x2="442.5" y2="553.0" stroke="#333333" stroke-width="1"/>
<line x1="439.9" y1="543.8" x2="445.1" y2="543.8" stroke="#333333" stroke-width="1"/>
<line x1="399.4" y1="481.5" x2="399.4" y2="566.1" stroke="#111111" stroke-width="1.3"/>
<line x1="396.2" y1="565.6" x2="453.3" y2="565.6" stroke="#111111" stroke-width="1.2"/>
<line x1="396.0" y1="565.6" x2="399.4" y2="565.6" stroke="#111111" stroke-width="1"/>
<text x="393.4" y="568.6" font-size="8.5" text-anchor="end" fill="#141414">0</text>
<line x1="396.0" y1="549.25" x2="399.4" y2="549.25" stroke="#111111" stroke-width="1"/>
<text x="393.4" y="552.25" font-size="8.5" text-anchor="end" fill="#141414">500</text>
<line x1="396.0" y1="532.9" x2="399.4" y2="532.9" stroke="#111111" stroke-width="1"/>
<text x="393.4" y="535.9" font-size="8.5" text-anchor="end" fill="#141414">1000</text>
<line x1="396.0" y1="516.5500000000001" x2="399.4" y2="516.5500000000001" stroke="#111111" stroke-width="1"/>
<text x="393.4" y="519.55" font-size="8.5" text-anchor="end" fill="#141414">1500</text>
<line x1="396.0" y1="500.20000000000005" x2="399.4" y2="500.20000000000005" stroke="#111111" stroke-width="1"/>
<text x="393.4" y="503.2" font-size="8.5" text-anchor="end" fill="#141414">2000</text>
<line x1="396.0" y1="483.85" x2="399.4" y2="483.85" stroke="#111111" stroke-width="1"/>
<text x="393.4" y="486.85" font-size="8.5" text-anchor="end" fill="#141414">2500</text>
<line x1="410.5" y1="565.6" x2="410.5" y2="568.6" stroke="#111111" stroke-width="1"/>
<line x1="426.5" y1="565.6" x2="426.5" y2="568.6" stroke="#111111" stroke-width="1"/>
<line x1="442.5" y1="565.6" x2="442.5" y2="568.6" stroke="#111111" stroke-width="1"/>
<text transform="translate(413.60,575.20) rotate(-45)" font-size="8.8" text-anchor="end" fill="#141414" stroke="#141414" stroke-width="0.18" textLength="50" lengthAdjust="spacingAndGlyphs">Definite ALPS</text>
<text transform="translate(429.90,575.20) rotate(-45)" font-size="8.8" text-anchor="end" fill="#141414" stroke="#141414" stroke-width="0.18" textLength="60" lengthAdjust="spacingAndGlyphs">Suspected ALPS</text>
<text transform="translate(445.90,575.20) rotate(-45)" font-size="8.8" text-anchor="end" fill="#141414" stroke="#141414" stroke-width="0.18" textLength="51" lengthAdjust="spacingAndGlyphs">Unlikely ALPS</text>
<text transform="translate(369.10,523.30) rotate(-90)" font-size="10.3" text-anchor="middle" fill="#141414" stroke="#141414" stroke-width="0.1" textLength="92.1" lengthAdjust="spacingAndGlyphs">Interleukin-18 levels pg/mL</text>
<rect x="0.5" y="0.5" width="519" height="678" fill="none" stroke="#000" stroke-width="1.2"/>
</svg>
</body></html>
